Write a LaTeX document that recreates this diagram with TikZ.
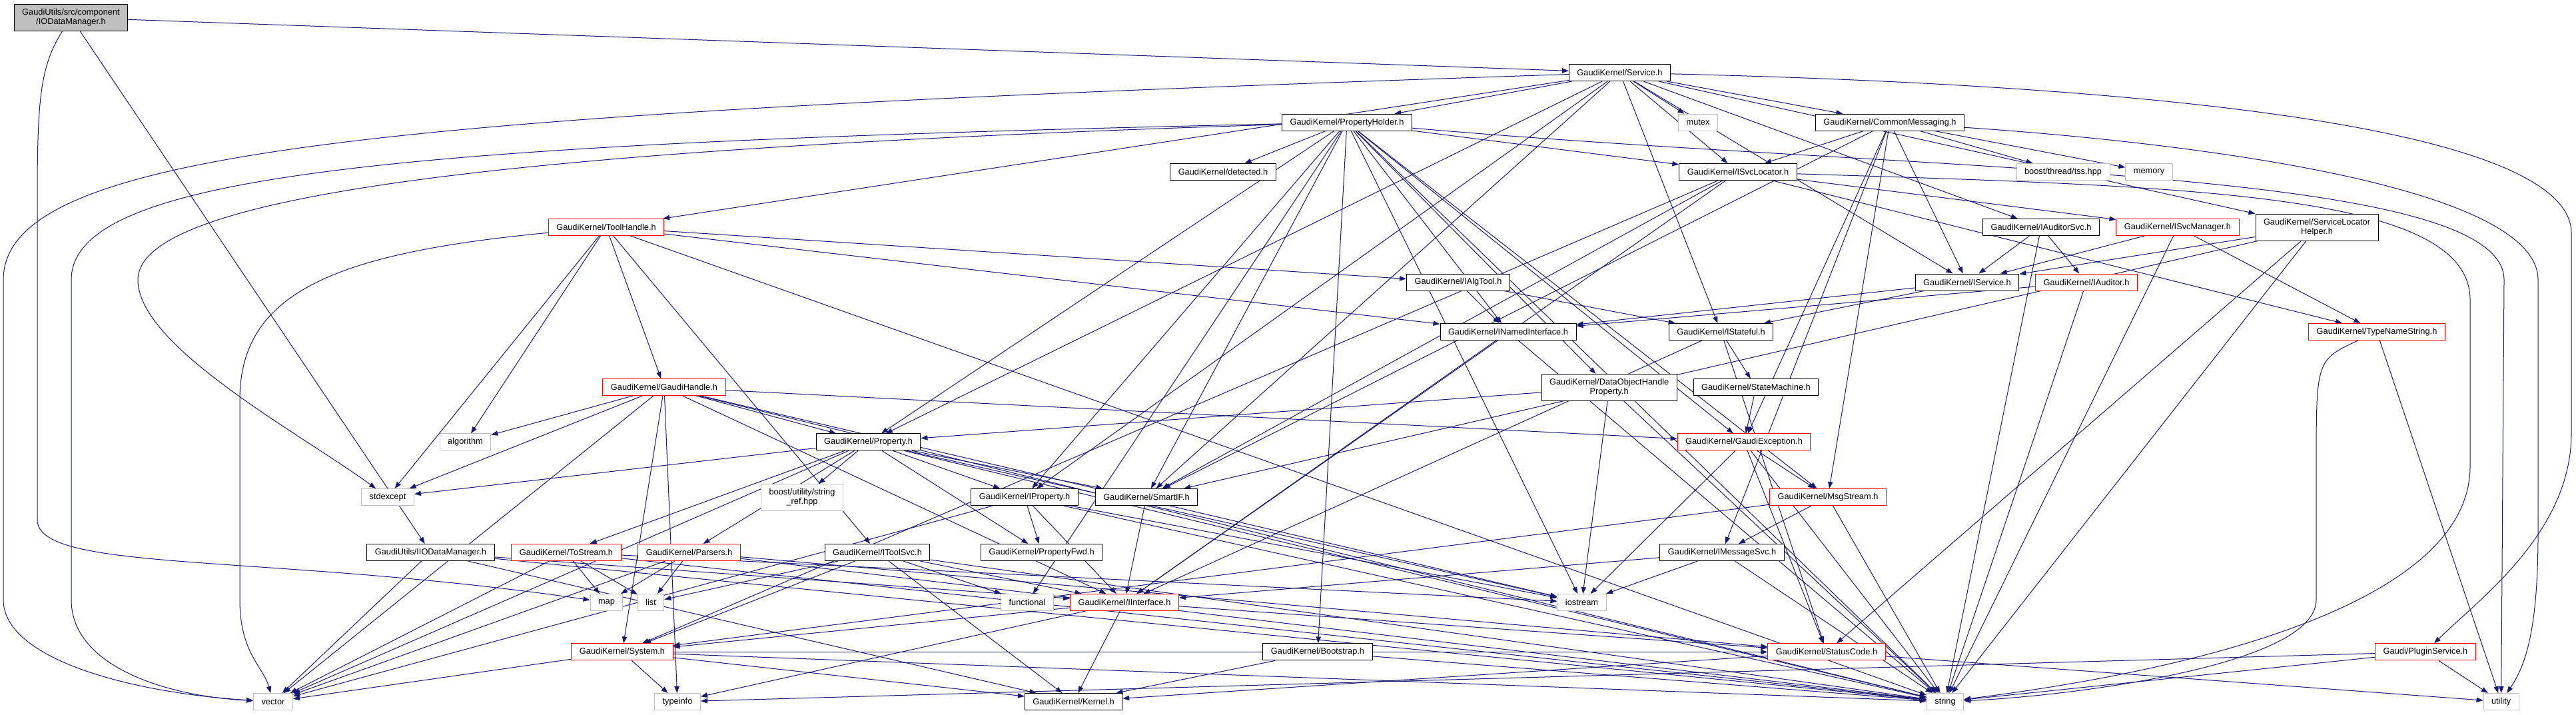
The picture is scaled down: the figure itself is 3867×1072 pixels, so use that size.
\documentclass[tikz,border=0pt]{standalone}
\usepackage{fontspec}
\setmainfont{Liberation Sans}
\usetikzlibrary{arrows.meta,backgrounds}

\definecolor{incblue}{HTML}{191970}
\definecolor{grey75}{HTML}{BFBFBF}

\begin{document}
\begin{tikzpicture}[
    x=0.75pt, y=-0.75pt,
    every node/.append style={draw,fill=white,line width=0.75pt,inner xsep=9pt,inner ysep=0pt,
      minimum height=18.75pt,font=\fontsize{9.6}{10.5}\selectfont,align=center},
    hdr/.style={draw=black},
    hdrred/.style={draw=red},
    hdrext/.style={draw=grey75},
    twoline/.style={minimum height=30pt},
    incl/.style={draw=incblue,line width=0.75pt,-{Triangle[length=7.5pt,width=5.5pt]}}
  ]
  \useasboundingbox (0,0) rectangle (3867,1072);

  % rank 0
  \node[hdr,fill=grey75,twoline] (root) at (106.5,26.3) {GaudiUtils/src/component\\/IODataManager.h};
  % rank 1
  \node[hdr] (svc) at (2431.5,109) {GaudiKernel/Service.h};
  % rank 2
  \node[hdr]    (ph)  at (2022,183.7) {GaudiKernel/PropertyHolder.h};
  \node[hdrext] (mtx) at (2549,183.7) {mutex};
  \node[hdr]    (cm)  at (2837,183.7) {GaudiKernel/CommonMessaging.h};
  % rank 3
  \node[hdr]    (det) at (1836,258) {GaudiKernel/detected.h};
  \node[hdr]    (isl) at (2609,258) {GaudiKernel/ISvcLocator.h};
  \node[hdrext] (tss) at (3097,258) {boost/thread/tss.hpp};
  \node[hdrext] (mem) at (3226,258) {memory};
  % rank 4
  \node[hdrred] (th)  at (910,341)  {GaudiKernel/ToolHandle.h};
  \node[hdr]    (ias) at (3064,341) {GaudiKernel/IAuditorSvc.h};
  \node[hdrred] (ism) at (3269,341) {GaudiKernel/ISvcManager.h};
  \node[hdr,twoline] (slh) at (3478,341) {GaudiKernel/ServiceLocator\\Helper.h};
  % rank 5
  \node[hdr]    (iat) at (2189,423.5) {GaudiKernel/IAlgTool.h};
  \node[hdr]    (isv) at (2953,423.5) {GaudiKernel/IService.h};
  \node[hdrred] (iau) at (3132,423.5) {GaudiKernel/IAuditor.h};
  % rank 6
  \node[hdr]    (ini) at (2264,498) {GaudiKernel/INamedInterface.h};
  \node[hdr]    (ist) at (2583.5,498) {GaudiKernel/IStateful.h};
  \node[hdrred] (tns) at (3568,498) {GaudiKernel/TypeNameString.h};
  % rank 7
  \node[hdrred] (gh)  at (997,581) {GaudiKernel/GaudiHandle.h};
  \node[hdr,twoline] (dohp) at (2415.7,581.4) {GaudiKernel/DataObjectHandle\\Property.h};
  \node[hdr]    (sm)  at (2636,581) {GaudiKernel/StateMachine.h};
  % rank 8
  \node[hdrext] (alg)  at (698.5,663.4) {algorithm};
  \node[hdr]    (prop) at (1303.5,663.4) {GaudiKernel/Property.h};
  \node[hdrred] (gex)  at (2618,663.4) {GaudiKernel/GaudiException.h};
  % rank 9
  \node[hdrext] (stdex) at (582,746) {stdexcept};
  \node[hdrext,twoline] (sref) at (1204,746.6) {boost/utility/string\\\_ref.hpp};
  \node[hdr]    (iprop) at (1538,746) {GaudiKernel/IProperty.h};
  \node[hdr]    (sif)   at (1721,746) {GaudiKernel/SmartIF.h};
  \node[hdrred] (ms)    at (2744,746) {GaudiKernel/MsgStream.h};
  % rank 10
  \node[hdr]    (iiod) at (646.4,829) {GaudiUtils/IIODataManager.h};
  \node[hdrred] (tos)  at (850,829) {GaudiKernel/ToStream.h};
  \node[hdrred] (pars) at (1034.6,829) {GaudiKernel/Parsers.h};
  \node[hdr]    (its)  at (1317,829) {GaudiKernel/IToolSvc.h};
  \node[hdr]    (pfwd) at (1563.7,829) {GaudiKernel/PropertyFwd.h};
  \node[hdr]    (imsg) at (2585,829) {GaudiKernel/IMessageSvc.h};
  % rank 11
  \node[hdrext] (map)  at (910.5,904) {map};
  \node[hdrext] (list) at (977,904) {list};
  \node[hdrext] (func) at (1542,904) {functional};
  \node[hdrred] (iif)  at (1688,904) {GaudiKernel/IInterface.h};
  \node[hdrext] (ios)  at (2374.5,904) {iostream};
  % rank 12
  \node[hdrred] (sys)  at (934,978.4) {GaudiKernel/System.h};
  \node[hdr]    (boot) at (1978,978.4) {GaudiKernel/Bootstrap.h};
  \node[hdrred] (sc)   at (2742,978.4) {GaudiKernel/StatusCode.h};
  \node[hdrred] (plug) at (3641,978.4) {Gaudi/PluginService.h};
  % rank 13
  \node[hdrext] (vec)   at (410,1053) {vector};
  \node[hdrext] (tinfo) at (1017,1053) {typeinfo};
  \node[hdr]    (kern)  at (1611.6,1053) {GaudiKernel/Kernel.h};
  \node[hdrext] (str)   at (2920,1053) {string};
  \node[hdrext] (util)  at (3754.6,1053) {utility};

  \begin{scope}[on background layer]
    % includes, grouped by including file
    \foreach \tgt in {svc,iiod} \draw[incl] (root) -- (\tgt);
    \draw[incl] (root) .. controls (60,100) and (56,150) .. (56,300) -- (56,780) .. controls (56,860) and (400,830) .. (map);

    \foreach \tgt in {ph,mtx,cm,isl,ist,isv,ias,slh,th,prop,iprop,sif} \draw[incl] (svc) -- (\tgt);
    \draw[incl] (svc) .. controls (600,170) and (5,220) .. (5,420) -- (5,900) .. controls (5,990) and (200,1040) .. (vec);
    \draw[incl] (svc) .. controls (3300,130) and (3860,200) .. (3860,350) -- (3860,650) .. controls (3860,800) and (3720,900) .. (plug);

    \foreach \tgt in {det,isl,dohp,boot,ini,prop,iprop,gex,ios,str,func,sif,ms} \draw[incl] (ph) -- (\tgt);
    \draw[incl] (ph) .. controls (600,215) and (107,260) .. (107,420) -- (107,900) .. controls (107,1000) and (250,1045) .. (vec);
    \draw[incl] (ph) .. controls (700,225) and (207,300) .. (207,420) .. controls (207,520) and (450,650) .. (stdex);
    \draw[incl] (ph) .. controls (2900,260) and (3759,250) .. (3759,420) -- (util);

    \foreach \tgt in {isl,gex,ms,imsg,isv,tss,mem,sif} \draw[incl] (cm) -- (\tgt);
    \draw[incl] (cm) .. controls (3300,215) and (3810,280) .. (3810,420) -- (3810,800) .. controls (3810,950) and (3790,1000) .. (util);

    \foreach \tgt in {ism,tns,iif,sif,sys} \draw[incl] (isl) -- (\tgt);
    \draw[incl] (isl) .. controls (3300,280) and (3708,290) .. (3708,450) -- (3708,700) .. controls (3708,950) and (3100,1030) .. (str);

    \foreach \tgt in {stdex,alg,gh,its,iat,ini,str} \draw[incl] (th) -- (\tgt);
    \draw[incl] (th) .. controls (500,380) and (360,440) .. (360,600) -- (360,900) .. controls (360,980) and (395,1000) .. (vec);

    \foreach \tgt in {isv,iau,str} \draw[incl] (ias) -- (\tgt);
    \foreach \tgt in {isv,tns,str} \draw[incl] (ism) -- (\tgt);
    \foreach \tgt in {isv,sif,sc,str} \draw[incl] (slh) -- (\tgt);
    \foreach \tgt in {ini,ist} \draw[incl] (iat) -- (\tgt);
    \foreach \tgt in {ini,ist} \draw[incl] (isv) -- (\tgt);
    \foreach \tgt in {ini,str} \draw[incl] (iau) -- (\tgt);
    \foreach \tgt in {iif,str} \draw[incl] (ini) -- (\tgt);
    \foreach \tgt in {sm,iif,sc} \draw[incl] (ist) -- (\tgt);
    \draw[incl] (tns) -- (util);
    \draw[incl] (tns) .. controls (3477,540) .. (3477,700) -- (3477,900) .. controls (3477,1000) and (3100,1045) .. (str);

    \foreach \tgt in {alg,stdex,vec,prop,gex,ios,sys,tinfo,str,iif} \draw[incl] (gh) -- (\tgt);
    \foreach \tgt in {prop,ios,str} \draw[incl] (dohp) -- (\tgt);
    \draw[incl] (sm) -- (gex);
    \foreach \tgt in {stdex,vec,sref,iprop,sif,tos,pars,pfwd,ios,str} \draw[incl] (prop) -- (\tgt);
    \foreach \tgt in {ms,sc,str,ios} \draw[incl] (gex) -- (\tgt);
    \foreach \tgt in {imsg,str,sys} \draw[incl] (ms) -- (\tgt);
    \foreach \tgt in {iif,ios,str} \draw[incl] (imsg) -- (\tgt);

    \foreach \tgt in {vec,iif,kern,str} \draw[incl] (iiod) -- (\tgt);
    \foreach \tgt in {map,list,vec,str,ios} \draw[incl] (tos) -- (\tgt);
    \foreach \tgt in {map,list,vec,str,sc} \draw[incl] (pars) -- (\tgt);
    \foreach \tgt in {list,func,iif,kern,str,sys} \draw[incl] (its) -- (\tgt);
    \foreach \tgt in {pfwd,iif,vec,str,ios} \draw[incl] (iprop) -- (\tgt);
    \draw[incl] (sif) -- (iif);

    \foreach \tgt in {kern,sc,tinfo,sys} \draw[incl] (iif) -- (\tgt);
    \foreach \tgt in {kern,tinfo,vec,str,sc} \draw[incl] (sys) -- (\tgt);
    \foreach \tgt in {kern,str} \draw[incl] (boot) -- (\tgt);
    \foreach \tgt in {kern,util} \draw[incl] (sc) -- (\tgt);
    \foreach \tgt in {tinfo,str,util} \draw[incl] (plug) -- (\tgt);
  \end{scope}
\end{tikzpicture}
\end{document}
